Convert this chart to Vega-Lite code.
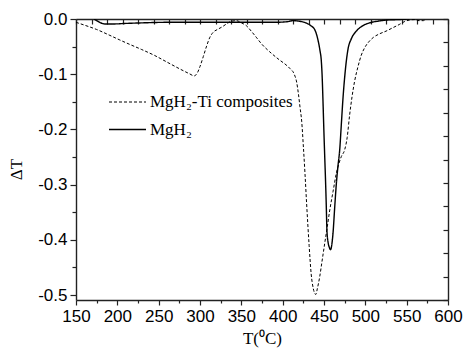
{
  "$schema": "https://vega.github.io/schema/vega-lite/v6.json",
  "width": 372,
  "height": 281,
  "autosize": {"type": "none"},
  "padding": {"left": 76, "top": 19, "right": 16, "bottom": 50},
  "background": "white",
  "config": {
    "view": {"stroke": null},
    "axis": {"grid": false, "domainColor": "#222", "domainWidth": 1.4, "tickColor": "#222", "tickWidth": 1.2, "labelColor": "black", "labelFont": "Liberation Sans", "labelFontSize": 17, "titleFont": "Liberation Serif", "titleFontSize": 17, "titleFontWeight": "normal", "titleColor": "black"},
    "locale": {"number": {"decimal": ".", "thousands": ",", "grouping": [3], "currency": ["$", ""], "minus": "-"}}
  },
  "data": {"values": [
    {"s": "MgH₂-Ti composites", "T": 150, "dT": -0.006},
    {"s": "MgH₂-Ti composites", "T": 160, "dT": -0.011},
    {"s": "MgH₂-Ti composites", "T": 175, "dT": -0.019},
    {"s": "MgH₂-Ti composites", "T": 190, "dT": -0.029},
    {"s": "MgH₂-Ti composites", "T": 203, "dT": -0.038},
    {"s": "MgH₂-Ti composites", "T": 215, "dT": -0.046},
    {"s": "MgH₂-Ti composites", "T": 229, "dT": -0.055},
    {"s": "MgH₂-Ti composites", "T": 245, "dT": -0.066},
    {"s": "MgH₂-Ti composites", "T": 260, "dT": -0.078},
    {"s": "MgH₂-Ti composites", "T": 275, "dT": -0.09},
    {"s": "MgH₂-Ti composites", "T": 287, "dT": -0.099},
    {"s": "MgH₂-Ti composites", "T": 293, "dT": -0.103},
    {"s": "MgH₂-Ti composites", "T": 297, "dT": -0.097},
    {"s": "MgH₂-Ti composites", "T": 300, "dT": -0.086},
    {"s": "MgH₂-Ti composites", "T": 304, "dT": -0.068},
    {"s": "MgH₂-Ti composites", "T": 308, "dT": -0.049},
    {"s": "MgH₂-Ti composites", "T": 312, "dT": -0.033},
    {"s": "MgH₂-Ti composites", "T": 316, "dT": -0.024},
    {"s": "MgH₂-Ti composites", "T": 321, "dT": -0.019},
    {"s": "MgH₂-Ti composites", "T": 326, "dT": -0.015},
    {"s": "MgH₂-Ti composites", "T": 332, "dT": -0.009},
    {"s": "MgH₂-Ti composites", "T": 338, "dT": -0.004},
    {"s": "MgH₂-Ti composites", "T": 344, "dT": -0.003},
    {"s": "MgH₂-Ti composites", "T": 350, "dT": -0.007},
    {"s": "MgH₂-Ti composites", "T": 356, "dT": -0.012},
    {"s": "MgH₂-Ti composites", "T": 362, "dT": -0.022},
    {"s": "MgH₂-Ti composites", "T": 368, "dT": -0.033},
    {"s": "MgH₂-Ti composites", "T": 375, "dT": -0.046},
    {"s": "MgH₂-Ti composites", "T": 384, "dT": -0.059},
    {"s": "MgH₂-Ti composites", "T": 396, "dT": -0.074},
    {"s": "MgH₂-Ti composites", "T": 404, "dT": -0.083},
    {"s": "MgH₂-Ti composites", "T": 409, "dT": -0.09},
    {"s": "MgH₂-Ti composites", "T": 414, "dT": -0.1},
    {"s": "MgH₂-Ti composites", "T": 417, "dT": -0.115},
    {"s": "MgH₂-Ti composites", "T": 419, "dT": -0.135},
    {"s": "MgH₂-Ti composites", "T": 421, "dT": -0.16},
    {"s": "MgH₂-Ti composites", "T": 423, "dT": -0.185},
    {"s": "MgH₂-Ti composites", "T": 425, "dT": -0.23},
    {"s": "MgH₂-Ti composites", "T": 427, "dT": -0.28},
    {"s": "MgH₂-Ti composites", "T": 429, "dT": -0.335},
    {"s": "MgH₂-Ti composites", "T": 432, "dT": -0.41},
    {"s": "MgH₂-Ti composites", "T": 434.5, "dT": -0.462},
    {"s": "MgH₂-Ti composites", "T": 437, "dT": -0.488},
    {"s": "MgH₂-Ti composites", "T": 440, "dT": -0.499},
    {"s": "MgH₂-Ti composites", "T": 442, "dT": -0.488},
    {"s": "MgH₂-Ti composites", "T": 444.8, "dT": -0.467},
    {"s": "MgH₂-Ti composites", "T": 447.5, "dT": -0.44},
    {"s": "MgH₂-Ti composites", "T": 450.8, "dT": -0.407},
    {"s": "MgH₂-Ti composites", "T": 454, "dT": -0.376},
    {"s": "MgH₂-Ti composites", "T": 457, "dT": -0.346},
    {"s": "MgH₂-Ti composites", "T": 461, "dT": -0.312},
    {"s": "MgH₂-Ti composites", "T": 465, "dT": -0.279},
    {"s": "MgH₂-Ti composites", "T": 468, "dT": -0.262},
    {"s": "MgH₂-Ti composites", "T": 471, "dT": -0.249},
    {"s": "MgH₂-Ti composites", "T": 475, "dT": -0.237},
    {"s": "MgH₂-Ti composites", "T": 478, "dT": -0.215},
    {"s": "MgH₂-Ti composites", "T": 481, "dT": -0.174},
    {"s": "MgH₂-Ti composites", "T": 484, "dT": -0.14},
    {"s": "MgH₂-Ti composites", "T": 487, "dT": -0.113},
    {"s": "MgH₂-Ti composites", "T": 491, "dT": -0.087},
    {"s": "MgH₂-Ti composites", "T": 495, "dT": -0.066},
    {"s": "MgH₂-Ti composites", "T": 500, "dT": -0.05},
    {"s": "MgH₂-Ti composites", "T": 505, "dT": -0.04},
    {"s": "MgH₂-Ti composites", "T": 510, "dT": -0.033},
    {"s": "MgH₂-Ti composites", "T": 517, "dT": -0.027},
    {"s": "MgH₂-Ti composites", "T": 525, "dT": -0.022},
    {"s": "MgH₂-Ti composites", "T": 533, "dT": -0.016},
    {"s": "MgH₂-Ti composites", "T": 541, "dT": -0.01},
    {"s": "MgH₂-Ti composites", "T": 547, "dT": -0.005},
    {"s": "MgH₂-Ti composites", "T": 553, "dT": -0.002},
    {"s": "MgH₂-Ti composites", "T": 560, "dT": -0.001},
    {"s": "MgH₂-Ti composites", "T": 565, "dT": -0.003},
    {"s": "MgH₂-Ti composites", "T": 570, "dT": -0.003},
    {"s": "MgH₂-Ti composites", "T": 573, "dT": -0.001},
    {"s": "MgH₂", "T": 172, "dT": 0.0},
    {"s": "MgH₂", "T": 176, "dT": -0.004},
    {"s": "MgH₂", "T": 180, "dT": -0.007},
    {"s": "MgH₂", "T": 185, "dT": -0.009},
    {"s": "MgH₂", "T": 195, "dT": -0.009},
    {"s": "MgH₂", "T": 210, "dT": -0.008},
    {"s": "MgH₂", "T": 230, "dT": -0.007},
    {"s": "MgH₂", "T": 260, "dT": -0.006},
    {"s": "MgH₂", "T": 300, "dT": -0.006},
    {"s": "MgH₂", "T": 350, "dT": -0.006},
    {"s": "MgH₂", "T": 390, "dT": -0.006},
    {"s": "MgH₂", "T": 405, "dT": -0.005},
    {"s": "MgH₂", "T": 413, "dT": -0.003},
    {"s": "MgH₂", "T": 420, "dT": -0.004},
    {"s": "MgH₂", "T": 428, "dT": -0.007},
    {"s": "MgH₂", "T": 434, "dT": -0.012},
    {"s": "MgH₂", "T": 438.7, "dT": -0.019},
    {"s": "MgH₂", "T": 441, "dT": -0.028},
    {"s": "MgH₂", "T": 443, "dT": -0.04},
    {"s": "MgH₂", "T": 445, "dT": -0.056},
    {"s": "MgH₂", "T": 446.8, "dT": -0.077},
    {"s": "MgH₂", "T": 447.8, "dT": -0.105},
    {"s": "MgH₂", "T": 448.8, "dT": -0.15},
    {"s": "MgH₂", "T": 449.8, "dT": -0.2},
    {"s": "MgH₂", "T": 450.8, "dT": -0.246},
    {"s": "MgH₂", "T": 451.8, "dT": -0.29},
    {"s": "MgH₂", "T": 452.7, "dT": -0.335},
    {"s": "MgH₂", "T": 453.6, "dT": -0.385},
    {"s": "MgH₂", "T": 455, "dT": -0.405},
    {"s": "MgH₂", "T": 456.5, "dT": -0.414},
    {"s": "MgH₂", "T": 458, "dT": -0.418},
    {"s": "MgH₂", "T": 459.5, "dT": -0.408},
    {"s": "MgH₂", "T": 460.9, "dT": -0.388},
    {"s": "MgH₂", "T": 463, "dT": -0.34},
    {"s": "MgH₂", "T": 465, "dT": -0.297},
    {"s": "MgH₂", "T": 467, "dT": -0.265},
    {"s": "MgH₂", "T": 469, "dT": -0.237},
    {"s": "MgH₂", "T": 471, "dT": -0.19},
    {"s": "MgH₂", "T": 473, "dT": -0.143},
    {"s": "MgH₂", "T": 476, "dT": -0.09},
    {"s": "MgH₂", "T": 479, "dT": -0.055},
    {"s": "MgH₂", "T": 483, "dT": -0.036},
    {"s": "MgH₂", "T": 489, "dT": -0.022},
    {"s": "MgH₂", "T": 495, "dT": -0.014},
    {"s": "MgH₂", "T": 505, "dT": -0.007},
    {"s": "MgH₂", "T": 515, "dT": -0.004},
    {"s": "MgH₂", "T": 525, "dT": -0.002},
    {"s": "MgH₂", "T": 540, "dT": -0.001},
    {"s": "MgH₂", "T": 553, "dT": 0.0}
  ]},
  "layer": [
    {
      "mark": {"type": "line", "color": "black", "interpolate": "monotone", "clip": true},
      "encoding": {
        "x": {"field": "T", "type": "quantitative", "scale": {"domain": [150, 600], "nice": false, "zero": false},
          "axis": {"orient": "bottom", "title": "T(⁰C)", "titlePadding": 6,
            "values": [150,175,200,225,250,275,300,325,350,375,400,425,450,475,500,525,550,575,600],
            "labelExpr": "datum.value % 50 === 0 ? datum.label : ''", "labelPadding": 3, "labelFlush": false,
            "tickSize": {"condition": {"test": "datum.value % 50 === 0", "value": 5}, "value": 3}}},
        "y": {"field": "dT", "type": "quantitative", "scale": {"domain": [-0.509, 0], "nice": false, "zero": false},
          "axis": {"orient": "left", "title": "ΔT", "titlePadding": 12, "titleY": 150, "format": ".1f",
            "values": [-0.5,-0.45,-0.4,-0.35,-0.3,-0.25,-0.2,-0.15,-0.1,-0.05,0],
            "labelExpr": "abs(datum.value*10 - round(datum.value*10)) < 0.001 ? datum.label : ''", "labelPadding": 3, "labelFlush": false,
            "tickSize": {"condition": {"test": "abs(datum.value*10 - round(datum.value*10)) < 0.001", "value": 6}, "value": 4}}},
        "strokeDash": {"field": "s", "type": "nominal",
          "scale": {"domain": ["MgH₂-Ti composites", "MgH₂"], "range": [[3, 2], [1, 0]]},
          "legend": {"orient": "none", "legendX": 32, "legendY": 64, "title": null, "padding": 0, "rowPadding": -18,
            "symbolType": "stroke", "symbolSize": 1369, "symbolStrokeColor": "black", "symbolStrokeWidth": 1.1,
            "labelFont": "Liberation Serif", "labelFontSize": 17, "labelColor": "black", "labelOffset": 3}},
        "strokeWidth": {"field": "s", "type": "nominal",
          "scale": {"domain": ["MgH₂-Ti composites", "MgH₂"], "range": [1, 1.4]}, "legend": null}
      }
    },
    {
      "mark": {"type": "point", "opacity": 0},
      "encoding": {
        "x": {"field": "T", "type": "quantitative",
          "axis": {"orient": "top", "title": null, "labels": false, "tickSize": -5,
            "values": [150,168.75,187.5,206.25,225,243.75,262.5,281.25,300,318.75,337.5,356.25,375,393.75,412.5,431.25,450,468.75,487.5,506.25,525,543.75,562.5,581.25,600]}},
        "y": {"field": "dT", "type": "quantitative",
          "axis": {"orient": "right", "title": null, "labels": false, "tickSize": -5,
            "values": [0,-0.0424,-0.0848,-0.1273,-0.1697,-0.2121,-0.2545,-0.2969,-0.3393,-0.3818,-0.4242,-0.4666,-0.509]}}
      }
    }
  ],
  "resolve": {"axis": {"x": "independent", "y": "independent"}}
}
